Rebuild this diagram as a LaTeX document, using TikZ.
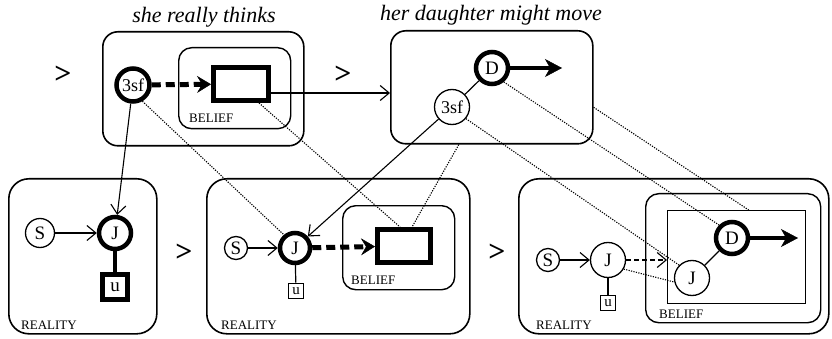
\documentclass[tikz,border=0pt]{standalone}
\usepackage{fontspec}
\setmainfont{Liberation Serif}
\usetikzlibrary{arrows.meta}

\begin{document}
\begin{tikzpicture}[x=1pt, y=-1pt,
    % outer world boxes
    worldbox/.style={draw, line width=1.6pt, rounded corners=#1, inner sep=0pt, anchor=north west},
    worldbox/.default=16pt,
    % belief boxes inside a world
    beliefbox/.style={draw, line width=1.4pt, rounded corners=13pt, inner sep=0pt, anchor=north west},
    % people: thin and thick circles
    person/.style={circle, draw, line width=1.3pt, inner sep=0pt, minimum size=#1, font=\fontsize{19}{20}\selectfont},
    focus/.style={circle, draw, line width=4.5pt, inner sep=0pt, minimum size=#1, font=\fontsize{19}{20}\selectfont},
    % the u squares
    thing/.style={rectangle, draw, inner sep=0pt},
    % empty slot of a belief
    slot/.style={rectangle, draw, line width=5pt, inner sep=0pt, minimum width=55pt, minimum height=33pt},
    % connectors
    link/.style={line width=1.1pt, -{Straight Barb[length=9pt,width=15pt]}},
    intend/.style={line width=5pt, dash pattern=on 9pt off 5pt, -{Stealth[length=14pt,width=17pt,inset=5pt,line width=0.5pt]}},
    move/.style={line width=4pt, -{Stealth[length=17pt,width=18pt,inset=5pt,line width=0.5pt]}},
    corr/.style={line width=1.1pt, dash pattern=on 1.2pt off 1.3pt},
    gt/.style={font=\bfseries\fontsize{30}{30}\selectfont},
    title/.style={anchor=base, font=\itshape\fontsize{22}{24}\selectfont},
    tag/.style={anchor=base west, inner sep=0pt, font=\fontsize{13}{13}\selectfont}
]
    \useasboundingbox (0,0) rectangle (832,339);

    % Top left: she really thinks
    \node[title] (t1) at (204,23) {she really thinks};
    \node[gt] (gt1) at (63,75) {>};
    \node[worldbox=15pt, minimum width=201pt, minimum height=114pt] (boxA) at (102,31) {};
    \node[beliefbox, minimum width=112pt, minimum height=81pt] (beliefA) at (178,47) {};
    \node[tag] (belA) at (189,123) {BELIEF};
    \node[focus=33pt, font=\fontsize{18}{20}\selectfont] (sfA) at (133,85) {3sf};
    \node[slot] (slotA) at (241,84) {};
    \draw[intend] (sfA) -- (slotA);

    % Top right: her daughter might move
    \node[title] (t2) at (491,21) {her daughter might move};
    \node[gt] (gt2) at (343,75) {>};
    \node[worldbox=15pt, minimum width=202pt, minimum height=113pt] (boxB) at (390,30) {};
    \node[focus=32pt] (dB) at (492,68) {D};
    \node[person=35pt, font=\fontsize{18}{20}\selectfont] (sfB) at (452,107) {3sf};
    \coordinate (goB) at (562,68);
    \draw[move] (dB) -- (goB);
    \draw[line width=1.2pt] (dB) -- (sfB);
    \coordinate (outA) at ([yshift=-9pt]slotA.east);
    \draw[link] (outA) -- (outA -| boxB.west);

    % Bottom left: reality
    \node[worldbox=20pt, minimum width=148pt, minimum height=155pt] (boxL) at (8,178) {};
    \node[tag] (realL) at (21,329) {REALITY};
    \node[person=29pt] (sL) at (40,233) {S};
    \node[focus=32pt] (jL) at (115,233) {J};
    \node[thing, line width=4.5pt, minimum size=25pt, font=\fontsize{19}{20}\selectfont] (uL) at (115,287) {u};
    \draw[link] (sL) -- (jL);
    \draw[line width=4.5pt] (jL) -- (uL);
    \draw[link] (sfA) -- (jL);

    % Bottom middle: reality with belief
    \node[gt] (gt3) at (184,253) {>};
    \node[worldbox=20pt, minimum width=263pt, minimum height=155pt] (boxM) at (206,178) {};
    \node[tag] (realM) at (221,329) {REALITY};
    \node[beliefbox, minimum width=112pt, minimum height=84pt] (beliefM) at (342,205) {};
    \node[tag] (belM) at (351,284) {BELIEF};
    \node[person=23pt] (sM) at (236,248) {S};
    \node[focus=30pt] (jM) at (295,248) {J};
    \node[thing, line width=1.6pt, minimum size=15pt, font=\fontsize{15}{15}\selectfont] (uM) at (296,291) {u};
    \node[slot, minimum width=53pt] (slotM) at (404,246) {};
    \draw[link] (sM) -- (jM);
    \draw[line width=1.2pt] (jM) -- (uM);
    \draw[intend] (jM) -- (slotM);
    \draw[link] (sfB) -- (jM);

    % Bottom right: reality with belief in the move
    \node[gt] (gt4) at (497,253) {>};
    \node[worldbox=20pt, minimum width=310pt, minimum height=155pt] (boxR) at (518,178) {};
    \node[tag] (realR) at (536,329) {REALITY};
    \node[beliefbox, minimum width=175pt, minimum height=129pt] (beliefR) at (645,193) {};
    \node[draw, line width=1.4pt, inner sep=0pt, anchor=north west, minimum width=138pt, minimum height=93pt] (innerR) at (667,210) {};
    \node[tag] (belR) at (659,318) {BELIEF};
    \node[person=23pt] (sR) at (548,260) {S};
    \node[person=35pt] (jR) at (608,260) {J};
    \node[thing, line width=1.6pt, minimum size=15pt, font=\fontsize{15}{15}\selectfont] (uR) at (608,303) {u};
    \node[focus=32pt] (dR) at (732,238) {D};
    \node[person=35pt] (jI) at (692,278) {J};
    \coordinate (goR) at (798,238);
    \draw[link] (sR) -- (jR);
    \draw[line width=1.2pt] (jR) -- (uR);
    \draw[link, dash pattern=on 5pt off 3pt] (jR) -- (jR -| innerR.west);
    \draw[line width=1.2pt] (jI) -- (dR);
    \draw[move] (dR) -- (goR);

    % dotted correspondence lines
    \draw[corr] (sfA.-60) -- (jM.130);
    \draw[corr] ([xshift=18pt]slotA.south) -- ([xshift=-4pt]slotM.north);
    \draw[corr] ([xshift=-33pt]boxB.south) -- ([xshift=8pt]slotM.north);
    \draw[corr] (sfB.-40) -- (jI.135);
    \draw[corr] (dB.-50) -- (dR.135);
    \draw[corr] ([yshift=-20pt]boxB.east) -- ([xshift=12pt]innerR.north);
    \draw[corr] (jR.-30) -- (jI.193);
\end{tikzpicture}
\end{document}
